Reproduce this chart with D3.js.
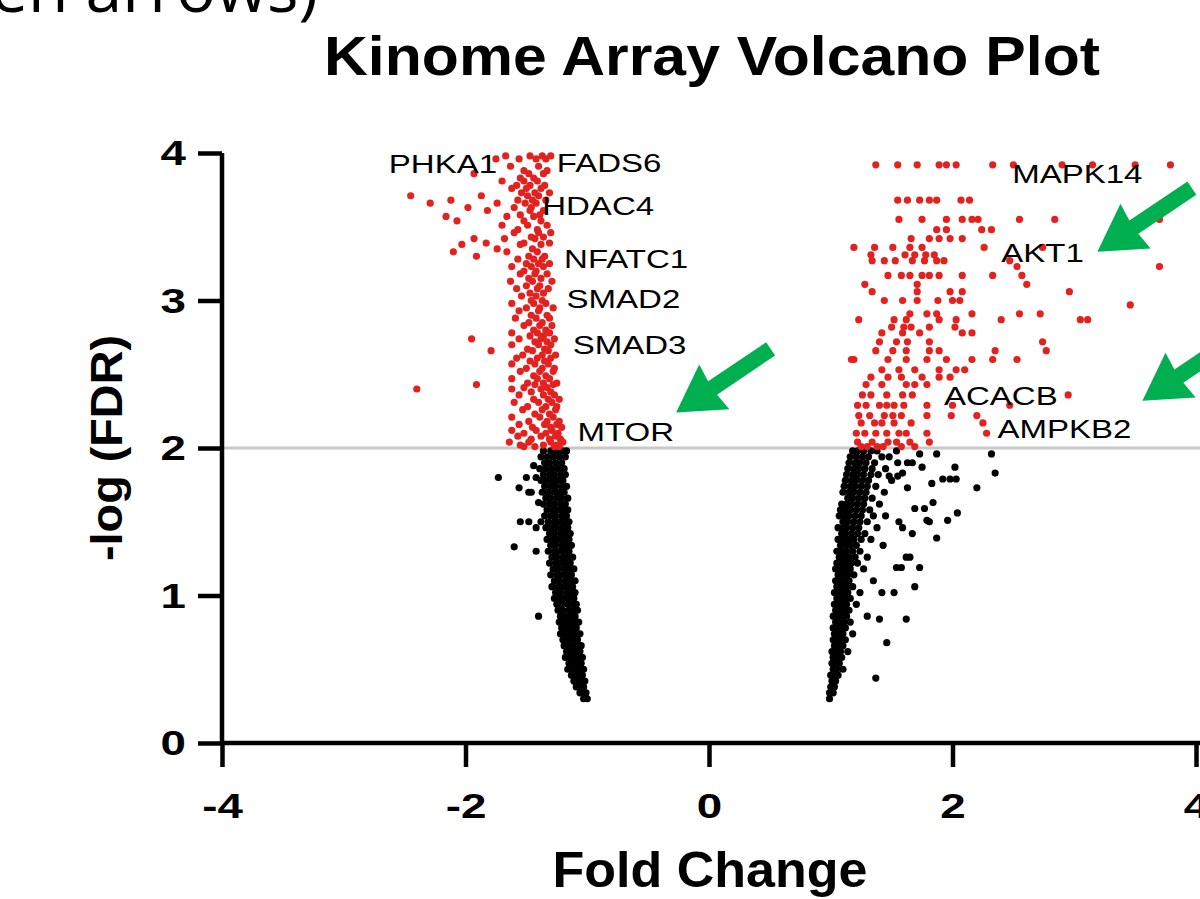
<!DOCTYPE html>
<html>
<head>
<meta charset="utf-8">
<script src="https://cdn.jsdelivr.net/npm/d3@7"></script>
<style>
  html, body { margin: 0; padding: 0; background: #fff; overflow: hidden; }
  svg { display: block; }
  text { font-family: "Liberation Sans", Arial, Helvetica, sans-serif; }
</style>
</head>
<body>
<div id="chart"></div>
<script>
// rows of [ -log(FDR), [fold changes...] ]
const leftSig = [
  [3.98, [-1.67,-1.47,-1.37,-1.30]],
  [3.96, [-1.75,-1.56,-1.42,-1.34]],
  [3.91, [-1.63,-1.40]],
  [3.88, [-1.52,-1.33]],
  [3.86, [-1.93,-1.48,-1.36]],
  [3.83, [-1.55,-1.44]],
  [3.81, [-1.70,-1.52,-1.41]],
  [3.78, [-1.58,-1.47,-1.35]],
  [3.76, [-1.62,-1.50,-1.38]],
  [3.73, [-1.54,-1.43,-1.31]],
  [3.71, [-2.45,-1.87,-1.49,-1.40]],
  [3.68, [-2.12,-1.57,-1.45,-1.34]],
  [3.66, [-2.29,-1.74,-1.51,-1.42]],
  [3.63, [-1.98,-1.60,-1.46]],
  [3.61, [-1.82,-1.47,-1.36]],
  [3.58, [-1.55,-1.39]],
  [3.57, [-2.16,-1.66,-1.44]],
  [3.54, [-2.07,-1.52,-1.38]],
  [3.51, [-1.70,-1.49,-1.33]],
  [3.48, [-1.57,-1.41]],
  [3.46, [-1.60,-1.40,-1.30]],
  [3.43, [-1.46,-1.36]],
  [3.42, [-1.93,-1.68,-1.43]],
  [3.39, [-1.83,-1.52,-1.31]],
  [3.38, [-2.03,-1.55,-1.38]],
  [3.35, [-1.74,-1.45]],
  [3.33, [-2.10,-1.66,-1.41]],
  [3.30, [-1.91,-1.48,-1.35]],
  [3.28, [-1.57,-1.44,-1.37]],
  [3.25, [-1.50,-1.40,-1.31]],
  [3.23, [-1.62,-1.46,-1.36]],
  [3.20, [-1.52,-1.42]],
  [3.18, [-1.55,-1.43,-1.33]],
  [3.15, [-1.48,-1.38]],
  [3.13, [-1.63,-1.45,-1.29]],
  [3.10, [-1.50,-1.39]],
  [3.08, [-1.58,-1.41,-1.32]],
  [3.05, [-1.47,-1.36]],
  [3.03, [-1.54,-1.42]],
  [3.00, [-1.46,-1.37]],
  [2.98, [-1.62,-1.44,-1.34]],
  [2.95, [-1.50,-1.39,-1.28]],
  [2.93, [-1.56,-1.40]],
  [2.90, [-1.46,-1.33]],
  [2.88, [-1.59,-1.42,-1.31]],
  [2.85, [-1.48,-1.37]],
  [2.83, [-1.52,-1.39,-1.29]],
  [2.80, [-1.44,-1.34]],
  [2.78, [-1.62,-1.41,-1.31]],
  [2.76, [-1.47,-1.36]],
  [2.74, [-1.95,-1.56,-1.38,-1.27]],
  [2.72, [-1.43,-1.33]],
  [2.70, [-1.62,-1.40,-1.30]],
  [2.67, [-1.49,-1.35]],
  [2.66, [-1.79,-1.45,-1.32]],
  [2.63, [-1.53,-1.37,-1.26]],
  [2.61, [-1.58,-1.41,-1.30]],
  [2.59, [-1.47,-1.35]],
  [2.57, [-1.62,-1.43,-1.32]],
  [2.54, [-1.50,-1.37,-1.27]],
  [2.52, [-1.55,-1.39,-1.28]],
  [2.49, [-1.44,-1.34]],
  [2.47, [-1.62,-1.41,-1.31]],
  [2.44, [-1.49,-1.36,-1.25]],
  [2.43, [-1.91,-1.43,-1.28]],
  [2.41, [-1.52,-1.33]],
  [2.40, [-2.40,-1.62,-1.38]],
  [2.38, [-1.46,-1.30]],
  [2.36, [-1.56,-1.36,-1.27]],
  [2.33, [-1.44,-1.32,-1.23]],
  [2.31, [-1.60,-1.40,-1.29]],
  [2.28, [-1.49,-1.34,-1.25]],
  [2.26, [-1.53,-1.37,-1.26]],
  [2.23, [-1.43,-1.31]],
  [2.21, [-1.62,-1.39,-1.28]],
  [2.18, [-1.48,-1.33,-1.23]],
  [2.16, [-1.56,-1.35,-1.25]],
  [2.14, [-1.45,-1.30,-1.21]],
  [2.12, [-1.62,-1.42,-1.29]],
  [2.10, [-1.52,-1.34,-1.24]],
  [2.08, [-1.57,-1.38,-1.26]],
  [2.06, [-1.46,-1.31,-1.22]],
  [2.04, [-1.64,-1.48,-1.30,-1.20]],
  [2.02, [-1.55,-1.36,-1.25]],
  [2.01, [-1.52,-1.43,-1.27,-1.23]]
]

const rightSig = [
  [3.92, [1.37,1.55,1.71,1.89,1.95,2.03,2.33,2.50,2.90,3.15,3.50,3.79]],
  [3.68, [1.55,1.63,1.73,1.81,1.87,2.07,2.14]],
  [3.55, [1.56,1.75,1.95,2.08,2.16,2.21,2.55,2.84,3.70]],
  [3.48, [1.87,1.95,2.24,2.32]],
  [3.42, [1.66,1.81,1.89,1.98,2.08]],
  [3.36, [1.19,1.36,1.51,1.65,1.75,2.26,2.74]],
  [3.31, [1.33,1.61,1.69,1.78,1.85]],
  [3.27, [1.34,1.44,1.53,1.67,1.77,1.87,1.93,2.47]],
  [3.23, [2.53,3.70]],
  [3.17, [1.47,1.58,1.65,1.75,1.81,1.89,2.08,2.33,2.57]],
  [3.11, [1.28,1.71,2.61]],
  [3.06, [1.34,1.71,1.98,2.08,2.96]],
  [3.00, [1.44,1.59,1.71,1.88,2.00,2.06]],
  [2.97, [3.46]],
  [2.91, [1.65,1.79,1.87,2.16,2.55,2.72]],
  [2.87, [1.23,1.52,1.62,1.89,2.03,2.40,3.05,3.11]],
  [2.82, [1.50,1.60,1.66,1.81,2.02]],
  [2.78, [1.42,1.59,1.73,2.08,2.16]],
  [2.72, [1.40,1.54,1.63,1.81,2.74]],
  [2.66, [1.37,1.51,1.62,1.81,1.89,2.35,2.77]],
  [2.60, [1.17,1.19,1.47,1.62,1.79,1.95,2.16,2.33,2.53]],
  [2.53, [1.42,1.56,1.69,1.89,2.03,2.10]],
  [2.48, [1.33,1.47,1.58,1.75,1.89,1.98]],
  [2.43, [1.29,1.42,1.62,1.69,1.79]],
  [2.36, [1.26,1.33,1.46,1.59,1.67,2.95]],
  [2.29, [1.22,1.29,1.40,1.46,1.52,1.60,1.79,2.00,2.47]],
  [2.22, [1.23,1.32,1.44,1.51,1.58,1.79,1.99,2.20]],
  [2.17, [1.25,1.36,1.42,1.52,1.66,2.25]],
  [2.10, [1.21,1.28,1.37,1.46,1.56,1.62,1.79,2.28]],
  [2.04, [1.22,1.34,1.47,1.54,1.65,1.81]],
  [2.01, [1.25,1.30,1.38,1.43,1.58,1.69]]
]

const leftNS = [
  [1.98, [-1.36,-1.30,-1.25,-1.20,-1.17]],
  [1.94, [-1.38,-1.33,-1.28,-1.23,-1.18]],
  [1.90, [-1.35,-1.31,-1.26,-1.21]],
  [1.88, [-1.44]],
  [1.86, [-1.39,-1.34,-1.29,-1.24,-1.19]],
  [1.82, [-1.36,-1.31,-1.27,-1.22,-1.18]],
  [1.80, [-1.73,-1.50,-1.42]],
  [1.78, [-1.38,-1.33,-1.28,-1.24,-1.20]],
  [1.74, [-1.35,-1.30,-1.26,-1.21,-1.17]],
  [1.73, [-1.56]],
  [1.70, [-1.48,-1.46,-1.37,-1.32,-1.27,-1.23,-1.19]],
  [1.66, [-1.34,-1.30,-1.25,-1.21,-1.16]],
  [1.63, [-1.40]],
  [1.62, [-1.36,-1.31,-1.27,-1.22,-1.18]],
  [1.58, [-1.33,-1.28,-1.24,-1.20,-1.16]],
  [1.54, [-1.35,-1.30,-1.26,-1.21,-1.17]],
  [1.50, [-1.55,-1.48,-1.38,-1.32,-1.27,-1.23,-1.19,-1.15]],
  [1.46, [-1.42,-1.34,-1.29,-1.25,-1.20,-1.16]],
  [1.42, [-1.31,-1.27,-1.22,-1.18,-1.14]],
  [1.38, [-1.33,-1.28,-1.24,-1.19,-1.15]],
  [1.34, [-1.30,-1.26,-1.21,-1.17,-1.13]],
  [1.33, [-1.60]],
  [1.30, [-1.42,-1.32,-1.27,-1.23,-1.19,-1.15]],
  [1.26, [-1.29,-1.25,-1.20,-1.16,-1.12]],
  [1.22, [-1.31,-1.26,-1.22,-1.18,-1.14]],
  [1.18, [-1.28,-1.24,-1.19,-1.15,-1.11]],
  [1.14, [-1.30,-1.25,-1.21,-1.17,-1.13]],
  [1.10, [-1.27,-1.23,-1.18,-1.14,-1.10]],
  [1.06, [-1.29,-1.24,-1.20,-1.16,-1.12]],
  [1.02, [-1.26,-1.22,-1.17,-1.13,-1.10]],
  [0.98, [-1.27,-1.23,-1.19,-1.15,-1.11]],
  [0.94, [-1.25,-1.21,-1.16,-1.12,-1.09]],
  [0.90, [-1.24,-1.20,-1.15,-1.11,-1.08]],
  [0.86, [-1.40,-1.22,-1.18,-1.14,-1.10]],
  [0.82, [-1.23,-1.19,-1.15,-1.11,-1.07]],
  [0.78, [-1.21,-1.17,-1.13,-1.09]],
  [0.74, [-1.22,-1.18,-1.14,-1.10,-1.06]],
  [0.70, [-1.20,-1.16,-1.12,-1.08]],
  [0.66, [-1.19,-1.15,-1.11,-1.07,-1.05]],
  [0.62, [-1.17,-1.13,-1.09,-1.06]],
  [0.58, [-1.18,-1.14,-1.10,-1.07,-1.04]],
  [0.54, [-1.15,-1.12,-1.08,-1.05]],
  [0.50, [-1.16,-1.12,-1.09,-1.06,-1.03]],
  [0.46, [-1.13,-1.10,-1.07,-1.04]],
  [0.42, [-1.11,-1.08,-1.05,-1.02]],
  [0.38, [-1.09,-1.06,-1.03]],
  [0.34, [-1.06,-1.03,-1.01]],
  [0.30, [-1.03,-1.00]]
]

const rightNS = [
  [1.98, [1.18,1.22,1.27,1.33,1.38,1.54]],
  [1.96, [1.73,1.87,2.32]],
  [1.94, [1.16,1.21,1.26,1.31,1.42,1.48]],
  [1.90, [1.15,1.20,1.24,1.29,1.36,1.55,1.63,1.67]],
  [1.87, [2.02,1.75]],
  [1.86, [1.14,1.19,1.23,1.28,1.34,1.45]],
  [1.83, [2.35,1.59]],
  [1.82, [1.13,1.18,1.22,1.27,1.33,1.39]],
  [1.81, [1.48,1.55]],
  [1.79, [1.92,1.98,2.03]],
  [1.78, [1.12,1.17,1.21,1.26,1.31,1.50]],
  [1.76, [1.83]],
  [1.74, [1.11,1.16,1.20,1.25,1.30,1.37]],
  [1.73, [1.63,2.20]],
  [1.70, [1.10,1.15,1.19,1.24,1.29,1.44]],
  [1.66, [1.14,1.18,1.23,1.28,1.34]],
  [1.63, [1.84]],
  [1.62, [1.09,1.13,1.17,1.22,1.27,1.40]],
  [1.59, [1.69,1.77]],
  [1.58, [1.08,1.12,1.16,1.21,1.26,1.32]],
  [1.56, [2.04]],
  [1.54, [1.07,1.11,1.15,1.20,1.25,1.35,1.45]],
  [1.51, [1.79,1.96]],
  [1.50, [1.10,1.14,1.19,1.24,1.30,1.56,1.81]],
  [1.46, [1.06,1.10,1.13,1.18,1.23,1.38,1.59]],
  [1.42, [1.09,1.12,1.17,1.22,1.28,1.67]],
  [1.39, [1.87]],
  [1.38, [1.06,1.10,1.14,1.19,1.25,1.33]],
  [1.34, [1.08,1.12,1.16,1.21,1.43]],
  [1.30, [1.05,1.09,1.13,1.18,1.24]],
  [1.26, [1.07,1.11,1.15,1.20,1.30,1.62,1.65]],
  [1.22, [1.05,1.09,1.13,1.17,1.22]],
  [1.19, [1.54,1.58,1.73]],
  [1.18, [1.04,1.08,1.12,1.16,1.27]],
  [1.14, [1.06,1.10,1.14,1.19]],
  [1.10, [1.04,1.07,1.11,1.15,1.35]],
  [1.06, [1.05,1.09,1.13,1.18,1.69]],
  [1.02, [1.03,1.07,1.10,1.14,1.24,1.42,1.52]],
  [0.98, [1.05,1.08,1.12,1.16]],
  [0.94, [1.03,1.06,1.10,1.13,1.21]],
  [0.90, [1.04,1.08,1.11,1.15]],
  [0.86, [1.02,1.06,1.09,1.13,1.30]],
  [0.84, [1.40,1.62]],
  [0.82, [1.04,1.07,1.11,1.16]],
  [0.78, [1.02,1.05,1.09,1.12]],
  [0.74, [1.03,1.07,1.10,1.18]],
  [0.70, [1.02,1.05,1.08,1.12]],
  [0.68, [1.46]],
  [0.66, [1.03,1.06,1.10]],
  [0.62, [1.01,1.04,1.08,1.14]],
  [0.58, [1.02,1.05,1.09]],
  [0.54, [1.01,1.04,1.07]],
  [0.50, [1.02,1.05,1.10]],
  [0.46, [1.00,1.03,1.06]],
  [0.44, [1.37]],
  [0.42, [1.01,1.04]],
  [0.38, [1.00,1.03]],
  [0.34, [0.99,1.02]],
  [0.30, [0.99]]
]

const xTicks = [-4, -2, 0, 2, 4]
const yTicks = [0, 1, 2, 3, 4]
const fdrCut = 2

// gene name, fold change and -log(FDR) of the text's left baseline
const geneLabels = [
  ['PHKA1', -2.63, 3.865], ['FADS6', -1.25, 3.87], ['HDAC4', -1.37, 3.58],
  ['NFATC1', -1.19, 3.22], ['SMAD2', -1.17, 2.95], ['SMAD3', -1.12, 2.64],
  ['MTOR', -1.08, 2.05], ['MAPK14', 2.49, 3.80], ['AKT1', 2.40, 3.26],
  ['ACACB', 1.93, 2.29], ['AMPKB2', 2.37, 2.07]
]

// green arrow tips, in data units
const arrowTips = [[-0.27, 2.24], [3.19, 3.33], [3.56, 2.32]]

const W = 1200, H = 899
const svg = d3.select('#chart').append('svg').attr('width', W).attr('height', H)

const x = d3.scaleLinear().domain([-4, 4]).range([222, 1196])
const y = d3.scaleLinear().domain([0, 4]).range([743, 153])

const flat = rows => rows.flatMap(([v, fcs]) => fcs.map(fc => ({fc: fc, v: v})))
const stretch = 1.27 // the screenshot is wider than it is tall

// slide text cut off at top
svg.append('text')
  .attr('x', 318).attr('y', 12)
  .attr('text-anchor', 'end')
  .style('font-family', '"Open Sans", sans-serif')
  .style('font-size', '66px')
  .text('(green arrows)')

svg.append('text')
  .attr('x', 712).attr('y', 75)
  .attr('text-anchor', 'middle')
  .attr('textLength', 776).attr('lengthAdjust', 'spacingAndGlyphs')
  .style('font-size', '56px').style('font-weight', 'bold')
  .text('Kinome Array Volcano Plot')

// threshold line
svg.append('line')
  .attr('x1', x(-4)).attr('x2', W)
  .attr('y1', y(fdrCut)).attr('y2', y(fdrCut))
  .attr('stroke', '#c8c8c8').attr('stroke-width', 3)

const dots = svg.append('g')
dots.selectAll('circle.ns')
  .data(flat(leftNS).concat(flat(rightNS)))
  .enter().append('circle')
  .attr('cx', d => x(d.fc)).attr('cy', d => y(d.v))
  .attr('r', 3.6).attr('fill', '#000')
dots.selectAll('circle.sig')
  .data(flat(leftSig).concat(flat(rightSig)))
  .enter().append('circle')
  .attr('cx', d => x(d.fc)).attr('cy', d => y(d.v))
  .attr('r', 3.6).attr('fill', '#e3211e')

// axes
const fmt = d => String(d)
const xAxis = svg.append('g')
  .attr('transform', `translate(0,${y(0)})`)
  .call(d3.axisBottom(x).tickValues(xTicks).tickFormat(fmt).tickSize(24).tickSizeOuter(0).tickPadding(25))
const yAxis = svg.append('g')
  .attr('transform', `translate(${x(-4)},0)`)
  .call(d3.axisLeft(y).tickValues(yTicks).tickFormat(fmt).tickSize(24).tickSizeOuter(0).tickPadding(12))
;[xAxis, yAxis].forEach(g => {
  g.selectAll('path, line').attr('stroke', '#000').attr('stroke-width', 4.5)
  g.selectAll('text')
    .style('font-family', '"Liberation Sans", Arial, sans-serif')
    .style('font-size', '36px').style('font-weight', 'bold').attr('fill', '#000')
    .attr('x', function () { return (+d3.select(this).attr('x') || 0) / stretch })
    .attr('transform', `scale(${stretch},1)`)
})
xAxis.select('.domain').attr('d', `M${x(-4)},0H${W + 10}`)
yAxis.select('.domain').attr('d', `M0,${y(4)}V${y(0)}`)
xAxis.selectAll('text').attr('dy', '0.71em')

svg.append('text')
  .attr('x', 710).attr('y', 887)
  .attr('text-anchor', 'middle')
  .attr('textLength', 315).attr('lengthAdjust', 'spacingAndGlyphs')
  .style('font-size', '50px').style('font-weight', 'bold')
  .text('Fold Change')

svg.append('text')
  .attr('transform', `translate(122,${y(2)}) rotate(-90)`)
  .attr('text-anchor', 'middle')
  .attr('textLength', 226).attr('lengthAdjust', 'spacingAndGlyphs')
  .style('font-size', '44px').style('font-weight', 'bold')
  .text('-log (FDR)')

// gene names
svg.append('g').selectAll('text')
  .data(geneLabels)
  .enter().append('text')
  .attr('transform', d => `translate(${x(d[1])},${y(d[2])}) scale(${stretch},1)`)
  .style('font-size', '26px').attr('fill', '#000')
  .text(d => d[0])

// green arrows pointing down-left
svg.append('g').selectAll('path')
  .data(arrowTips)
  .enter().append('path')
  .attr('transform', d => `translate(${x(d[0])},${y(d[1])}) rotate(-34)`)
  .attr('d', 'M0,0 L46,-27 L44,-8 L114,-8 L114,8 L44,8 L46,27 Z')
  .attr('fill', '#00b050')
</script>
</body>
</html>
